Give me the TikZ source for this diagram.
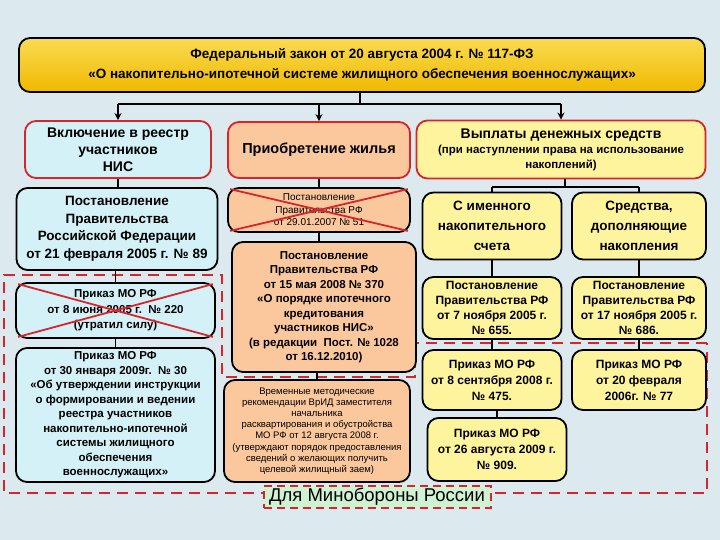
\documentclass[tikz,border=0pt]{standalone}
\usepackage{fontspec}
\setmainfont{Liberation Sans}
\usetikzlibrary{arrows.meta}
\definecolor{BgBlue}{HTML}{DCE9EE}
\definecolor{LawTop}{HTML}{FADC50}
\definecolor{LawBot}{HTML}{F0B800}
\definecolor{RegFill}{HTML}{D4F1F8}
\definecolor{BuyFill}{HTML}{FBC89E}
\definecolor{PayFill}{HTML}{FFF49E}
\definecolor{MinFill}{HTML}{CFF2D2}
\definecolor{FrameRed}{HTML}{D7262B}

\begin{document}
\begin{tikzpicture}[x=1pt,y=-1pt]
\tikzset{
box/.style={ rectangle , rounded corners=11pt , align=center ,
inner sep=2pt , draw=black , line width=1.8pt },
redbox/.style={ box , draw=FrameRed },
law/.style={ box , top color=LawTop , bottom color=LawBot , minimum width=686pt , minimum height=54pt ,
font=\fontsize{13.5}{20}\selectfont\bfseries },
reg/.style={ box , fill=RegFill },
buy/.style={ box , fill=BuyFill },
pay/.style={ box , fill=PayFill },
link/.style={ line width=1.6pt },
arr/.style={ link , -{Stealth[length=7pt,width=7pt]} },
cross/.style={ FrameRed , line width=1.8pt },
frame/.style={ FrameRed , line width=2.6pt , dash pattern=on 11pt off 7pt }
}
\fill[BgBlue] (0,0) rectangle (720,540);

% dashed frame: Minoborony
\draw[frame] (707,343) -- (415,343) -- (415,377) -- (222,377) -- (222,275) -- (4,275)
  -- (4,493) -- (707,493) -- cycle;

\node[law] (law) at (362,65) {Федеральный закон от 20 августа 2004 г. № 117-ФЗ\\
«О накопительно-ипотечной системе жилищного обеспечения военнослужащих»};

% column 1
\node[redbox,fill=RegFill,minimum width=186pt,minimum height=57pt,font=\fontsize{14}{17}\selectfont\bfseries]
  (incl) at (118,149.5) {Включение в реестр\\участников\\НИС};
\node[reg,minimum width=201pt,minimum height=82pt,font=\fontsize{13.5}{17.5}\selectfont\bfseries]
  (p89) at (117,229) {Постановление\\Правительства\\Российской Федерации\\от 21 февраля 2005 г. № 89};
\node[reg,minimum width=199pt,minimum height=55pt,font=\fontsize{11.5}{15.5}\selectfont\bfseries]
  (o220) at (115.5,310.5) {Приказ МО РФ\\от 8 июня 2005 г.\ \ № 220\\(утратил силу)};
\node[reg,minimum width=199pt,minimum height=134pt,font=\fontsize{11.5}{14.5}\selectfont\bfseries]
  (o30) at (115.5,415) {Приказ МО РФ\\от 30 января 2009г.\ \ № 30\\«Об утверждении инструкции\\о формировании и ведении\\реестра участников\\накопительно-ипотечной\\системы жилищного\\обеспечения\\военнослужащих»};

% column 2
\node[redbox,fill=BuyFill,minimum width=182pt,minimum height=56pt,font=\fontsize{14.5}{17}\selectfont\bfseries]
  (house) at (319,150) {Приобретение жилья};
\node[buy,minimum width=182pt,minimum height=44pt,font=\fontsize{10}{12.5}\selectfont]
  (p51) at (319,210) {Постановление\\Правительства РФ\\от 29.01.2007 № 51};
\node[buy,minimum width=184pt,minimum height=130pt,font=\fontsize{11.5}{14.5}\selectfont\bfseries]
  (p370) at (324,307) {Постановление\\Правительства РФ\\от 15 мая 2008 № 370\\«О порядке ипотечного\\кредитования\\участников НИС»\\(в редакции\ \ Пост. № 1028\\от 16.12.2010)};
\node[buy,minimum width=186pt,minimum height=102pt,font=\fontsize{9.5}{11.2}\selectfont]
  (recom) at (317,431) {Временные методические\\рекомендации ВрИД заместителя\\начальника\\расквартирования и обустройства\\МО РФ от 12 августа 2008 г.\\(утверждают порядок предоставления\\сведений о желающих получить\\целевой жилищный заем)};

% column 3
\node[redbox,fill=PayFill,minimum width=289pt,minimum height=58pt,font=\fontsize{11.5}{15}\selectfont\bfseries]
  (cash) at (561,149.5) {{\fontsize{14}{18}\selectfont Выплаты денежных средств}\\(при наступлении права на использование\\накоплений)};
\node[pay,minimum width=139pt,minimum height=67pt,font=\fontsize{13.5}{20}\selectfont\bfseries]
  (acct) at (492,226) {С именного\\накопительного\\счета};
\node[pay,minimum width=134pt,minimum height=67pt,font=\fontsize{13.5}{20}\selectfont\bfseries]
  (suppl) at (639,226) {Средства,\\дополняющие\\накопления};
\node[pay,minimum width=139pt,minimum height=62pt,font=\fontsize{12}{15}\selectfont\bfseries]
  (p655) at (492,308) {Постановление\\Правительства РФ\\от 7 ноября 2005 г.\\№ 655.};
\node[pay,minimum width=134pt,minimum height=62pt,font=\fontsize{12}{15}\selectfont\bfseries]
  (p686) at (639,308) {Постановление\\Правительства РФ\\от 17 ноября 2005 г.\\№ 686.};
\node[pay,minimum width=139pt,minimum height=60pt,font=\fontsize{12}{16}\selectfont\bfseries]
  (o475) at (492,380) {Приказ МО РФ\\от 8 сентября 2008 г.\\№ 475.};
\node[pay,minimum width=134pt,minimum height=60pt,font=\fontsize{12}{16}\selectfont\bfseries]
  (o77) at (639,380) {Приказ МО РФ\\от 20 февраля\\2006г. № 77};
\node[pay,minimum width=139pt,minimum height=63pt,font=\fontsize{12}{16}\selectfont\bfseries]
  (o909) at (497,449.5) {Приказ МО РФ\\от 26 августа 2009 г.\\№ 909.};

% label
\node[draw=FrameRed,fill=MinFill,line width=2pt,dash pattern=on 8pt off 5pt,
  minimum width=227pt,minimum height=22pt,inner sep=1pt,font=\fontsize{18.5}{20}\selectfont]
  (mod) at (377,497) {Для Минобороны России};

% connectors
\coordinate (fork) at (360,104);
\draw[link] (law.south -| fork) -- (fork);
\draw[link] (fork -| incl.north) -- (fork -| cash.north);
\draw[arr] (fork -| incl.north) -- (incl.north);
\draw[arr] (fork -| house.north) -- (house.north);
\draw[arr] (fork -| cash.north) -- (cash.north);
\draw[link] (incl.south) -- (incl.south |- p89.north);
\draw[link] (p89.south -| o220.north) -- (o220.north);
\draw[link] (o220.south) -- (o30.north);
\draw[link] (house.south) -- (p51.north);
\draw[link] (p51.south) -- (p51.south |- p370.north);
\draw[link] (p370.south -| recom.north) -- (recom.north);
\coordinate (split) at (565,187);
\draw[link] (cash.south -| split) -- (split);
\draw[link] (acct.north |- split) -- (suppl.north |- split);
\draw[link] (acct.north |- split) -- (acct.north);
\draw[link] (suppl.north |- split) -- (suppl.north);
\draw[link] (acct.south) -- (p655.north);
\draw[link] (suppl.south) -- (p686.north);
\draw[link] (p655.south) -- (o475.north);
\draw[link] (p686.south) -- (o77.north);
\draw[link] (o475.south -| o909.north) -- (o909.north);

% repealed acts
\draw[cross] ([shift={(3,2)}]o220.north west) -- ([shift={(-3,-2)}]o220.south east);
\draw[cross] ([shift={(3,-2)}]o220.south west) -- ([shift={(-3,2)}]o220.north east);
\draw[cross] ([shift={(3,2)}]p51.north west) -- ([shift={(-3,-2)}]p51.south east);
\draw[cross] ([shift={(3,-2)}]p51.south west) -- ([shift={(-3,2)}]p51.north east);
\end{tikzpicture}
\end{document}
